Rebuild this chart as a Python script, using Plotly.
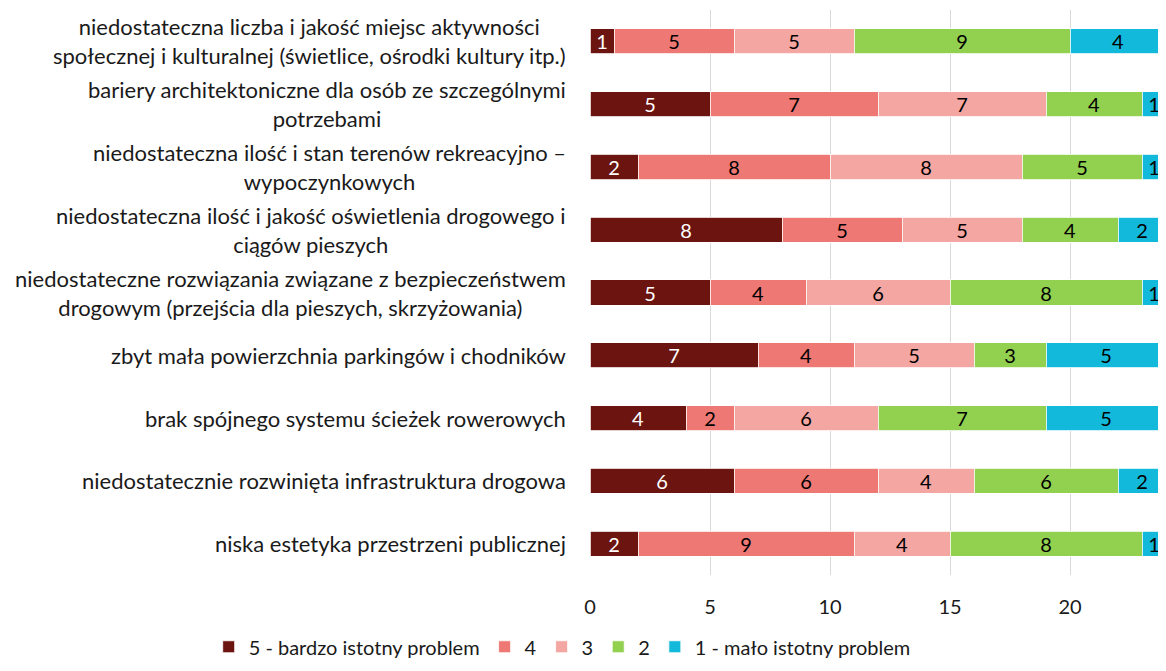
import plotly.graph_objects as go

categories = [
    "niedostateczna liczba i jakość miejsc aktywności<br>społecznej i kulturalnej (świetlice, ośrodki kultury itp.)",
    "bariery architektoniczne dla osób ze szczególnymi<br>potrzebami",
    "niedostateczna ilość i stan terenów rekreacyjno –<br>wypoczynkowych",
    "niedostateczna ilość i jakość oświetlenia drogowego i<br>ciągów pieszych",
    "niedostateczne rozwiązania związane z bezpieczeństwem<br>drogowym (przejścia dla pieszych, skrzyżowania)",
    "zbyt mała powierzchnia parkingów i chodników",
    "brak spójnego systemu ścieżek rowerowych",
    "niedostatecznie rozwinięta infrastruktura drogowa",
    "niska estetyka przestrzeni publicznej",
]

series_names = ["5 - bardzo istotny problem", "4", "3", "2", "1 - mało istotny problem"]
v5 = [1, 5, 2, 8, 5, 7, 4, 6, 2]
v4 = [5, 7, 8, 5, 4, 4, 2, 6, 9]
v3 = [5, 7, 8, 5, 6, 5, 6, 4, 4]
v2 = [9, 4, 5, 4, 8, 3, 7, 6, 8]
v1 = [4, 1, 1, 2, 1, 5, 5, 2, 1]
series_values = [v5, v4, v3, v2, v1]

colors = ["#6B1410", "#EE7874", "#F4A6A2", "#92D050", "#12B9DB"]
text_colors = ["white", "black", "black", "black", "black"]
x_ticks = [0, 5, 10, 15, 20]

FONT = "Lato, 'Open Sans', sans-serif"
TXT = "#1a1a1a"

fig = go.Figure()
for name, vals, col, tc in zip(series_names, series_values, colors, text_colors):
    fig.add_trace(go.Bar(
        y=categories, x=vals, name=name, orientation="h",
        marker=dict(color=col, line=dict(width=0.8, color="white")),
        text=vals, textposition="inside", insidetextanchor="middle",
        textangle=0, constraintext="none",
        textfont=dict(color=tc, size=20, family=FONT),
        hoverinfo="x+name",
    ))

annotations = []
for c in categories:
    annotations.append(dict(
        x=0, xref="paper", y=c, yref="y", text=c, showarrow=False,
        xanchor="right", yanchor="middle", align="center", xshift=-22,
        font=dict(size=22, color=TXT, family=FONT),
    ))

fig.update_layout(
    barmode="stack",
    bargap=0.6,
    width=1158, height=663,
    margin=dict(l=582, r=0, t=2, b=96),
    paper_bgcolor="white", plot_bgcolor="white",
    font=dict(family=FONT, size=20, color=TXT),
    xaxis=dict(range=[0, 24], tickvals=x_ticks, showgrid=True, gridcolor="#D9D9D9",
               gridwidth=1.3, zeroline=False, showline=False, ticks="",
               tickfont=dict(size=20, color=TXT), ticklabelstandoff=18),
    yaxis=dict(categoryorder="array", categoryarray=categories, autorange="reversed",
               showticklabels=False, showgrid=False, zeroline=False, showline=False),
    legend=dict(orientation="h", xref="paper", x=-0.662, xanchor="left",
                yref="paper", y=-0.127, yanchor="middle",
                font=dict(size=20, color=TXT), traceorder="normal",
                itemwidth=30),
    annotations=annotations,
    showlegend=True,
)

fig.write_html("out.html")
